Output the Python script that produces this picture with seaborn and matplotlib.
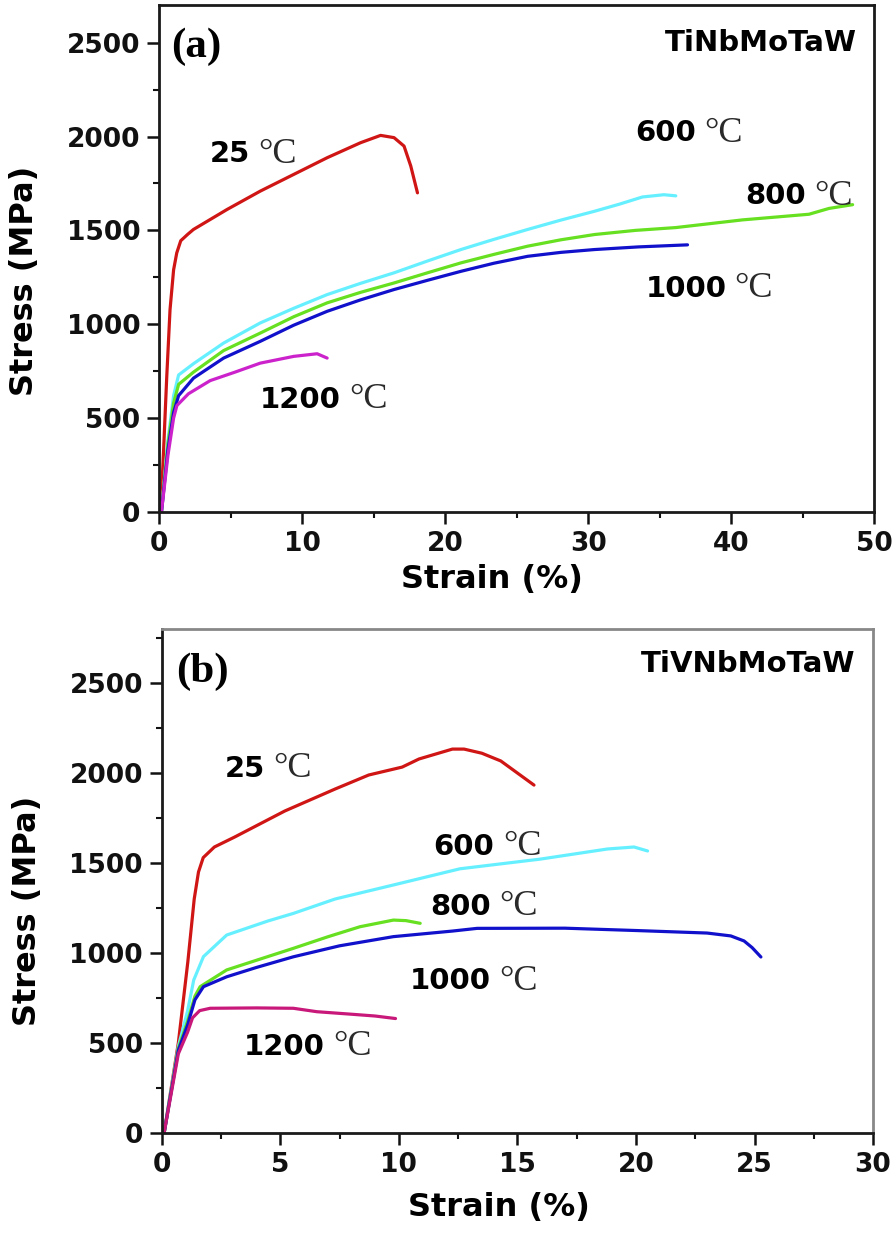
import numpy as np
import pandas as pd
import matplotlib
matplotlib.use('Agg')
import matplotlib.pyplot as plt
import seaborn as sns

# ---- data ----
temps = ['25', '600', '800', '1000', '1200']

# (a) TiNbMoTaW
a25_x = [0.1, 0.3, 0.52, 0.75, 1.0, 1.22, 1.5, 2.0, 2.39, 4.73, 7.06, 9.4, 11.74, 14.08, 15.48, 16.42, 17.12, 17.59, 18.06]
a25_y = [0, 330, 720, 1078, 1290, 1380, 1445, 1480, 1505, 1611, 1709, 1798, 1887, 1967, 2006, 1994, 1949, 1843, 1700]
a600_x = [0.15, 0.6, 1.0, 1.35, 2.39, 4.5, 7.06, 9.4, 11.74, 14.08, 16.42, 18.8, 21.1, 23.4, 25.77, 28.1, 30.45, 32.2, 33.8, 35.3, 36.13]
a600_y = [0, 380, 620, 730, 790, 900, 1007, 1085, 1158, 1218, 1274, 1338, 1398, 1452, 1505, 1555, 1602, 1640, 1678, 1690, 1684]
a800_x = [0.15, 0.6, 1.0, 1.35, 2.39, 4.5, 7.06, 9.4, 11.74, 14.08, 16.42, 18.8, 21.1, 23.4, 25.77, 28.1, 30.45, 33.3, 36.13, 40.8, 45.45, 46.85, 48.5]
a800_y = [0, 360, 580, 680, 745, 860, 953, 1040, 1114, 1170, 1220, 1275, 1327, 1372, 1416, 1450, 1478, 1500, 1515, 1556, 1586, 1617, 1637]
a1000_x = [0.15, 0.6, 1.0, 1.35, 2.39, 4.5, 7.06, 9.4, 11.74, 14.08, 16.42, 18.8, 21.1, 23.4, 25.77, 28.1, 30.45, 33.5, 36.95]
a1000_y = [0, 330, 530, 620, 713, 820, 909, 995, 1069, 1130, 1185, 1235, 1282, 1325, 1362, 1383, 1398, 1412, 1423]
a1200_x = [0.15, 0.6, 1.0, 1.23, 2.04, 3.56, 5.29, 7.06, 9.4, 11.04, 11.74]
a1200_y = [0, 300, 500, 567, 630, 700, 745, 793, 829, 843, 820]

# (b) TiVNbMoTaW
b25_x = [0.1, 0.7, 1.1, 1.37, 1.55, 1.75, 2.22, 3.07, 5.19, 7.31, 8.73, 10.14, 10.85, 12.26, 12.75, 13.5, 14.3, 15.0, 15.7]
b25_y = [0, 500, 950, 1300, 1450, 1530, 1589, 1644, 1789, 1911, 1989, 2033, 2078, 2133, 2133, 2110, 2067, 2000, 1933]
b600_x = [0.1, 0.7, 1.09, 1.35, 1.76, 2.74, 4.48, 5.55, 7.31, 9.77, 12.58, 15.98, 18.8, 19.92, 20.49]
b600_y = [0, 480, 678, 850, 980, 1100, 1178, 1220, 1300, 1378, 1468, 1522, 1578, 1589, 1567]
b800_x = [0.1, 0.7, 1.09, 1.4, 1.62, 2.74, 4.0, 5.55, 7.0, 8.36, 9.77, 10.3, 10.9]
b800_y = [0, 470, 620, 760, 813, 906, 960, 1026, 1090, 1146, 1183, 1180, 1165]
b1000_x = [0.1, 0.7, 1.09, 1.4, 1.76, 2.74, 4.0, 5.55, 7.5, 9.77, 12.26, 13.3, 17.0, 20.0, 23.0, 24.0, 24.56, 24.9, 25.27]
b1000_y = [0, 460, 600, 740, 813, 868, 920, 979, 1040, 1091, 1122, 1137, 1138, 1125, 1111, 1095, 1067, 1030, 978]
b1200_x = [0.1, 0.7, 1.09, 1.3, 1.6, 2.04, 4.0, 5.55, 6.54, 8.0, 9.0, 9.86]
b1200_y = [0, 440, 560, 640, 680, 693, 695, 693, 674, 660, 650, 636]

colors_a = ['#d01515', '#66f0ff', '#66e020', '#1111cc', '#cc22cc']
colors_b = ['#d01515', '#66f0ff', '#66e020', '#1111cc', '#c8187a']


def make_df(xs, ys):
    frames = []
    for t, x, y in zip(temps, xs, ys):
        frames.append(pd.DataFrame({'strain': x, 'stress': y, 'temp': t}))
    return pd.concat(frames, ignore_index=True)


df_a = make_df([a25_x, a600_x, a800_x, a1000_x, a1200_x],
               [a25_y, a600_y, a800_y, a1000_y, a1200_y])
df_b = make_df([b25_x, b600_x, b800_x, b1000_x, b1200_x],
               [b25_y, b600_y, b800_y, b1000_y, b1200_y])

sns.set_theme(style='ticks')
plt.rcParams['font.family'] = ['DejaVu Sans']
plt.rcParams['font.weight'] = 'bold'
plt.rcParams['text.color'] = '#000000'
plt.rcParams['axes.labelcolor'] = '#000000'
plt.rcParams['xtick.color'] = '#111111'
plt.rcParams['ytick.color'] = '#111111'

fig = plt.figure(figsize=(8.96, 12.38), dpi=100)
ax1 = fig.add_axes([0.1778, 0.5864, 0.7977, 0.4095])
ax2 = fig.add_axes([0.1805, 0.0848, 0.7939, 0.4071])


def temp_label(ax, x, y, num):
    t = ax.text(x, y, num, ha='left', va='center', fontsize=21,
                fontweight='bold', color='#000000')
    ax.annotate('°C', xy=(1, 0.5), xycoords=t, xytext=(6, 0),
                textcoords='offset points', ha='left', va='center',
                fontsize=26, family='Liberation Serif', fontweight='normal',
                color='#2a2a2a')


def style_axes(ax, xmax, ymax, xmajor, xminor, xlab_pos, ylab_pos):
    ax.set_xlim(0, xmax)
    ax.set_ylim(0, ymax)
    ax.set_xticks(np.arange(0, xmax + 0.1, xmajor))
    ax.set_xticks(np.arange(0, xmax + 0.1, xminor), minor=True)
    ax.set_yticks(np.arange(0, ymax, 500))
    ax.set_yticks(np.arange(0, ymax, 250), minor=True)
    ax.tick_params(which='major', direction='out', length=8.5, width=1.8,
                   labelsize=19, pad=5)
    ax.tick_params(which='minor', direction='out', length=4.5, width=1.5)
    for lab in ax.get_xticklabels() + ax.get_yticklabels():
        lab.set_fontweight('bold')
    for sp in ax.spines.values():
        sp.set_linewidth(2.0)
        sp.set_color('#1a1a1a')
    ax.set_xlabel('Strain (%)', fontsize=23, fontweight='bold')
    ax.set_ylabel('Stress (MPa)', fontsize=23, fontweight='bold')
    ax.xaxis.set_label_coords(*xlab_pos)
    ax.yaxis.set_label_coords(*ylab_pos)
    ax.xaxis.label.set_va('center')
    ax.yaxis.label.set_va('center')


# ---- (a) ----
sns.lineplot(data=df_a, x='strain', y='stress', hue='temp', palette=colors_a,
             sort=False, estimator=None, lw=2.3, legend=False, ax=ax1)
style_axes(ax1, 50, 2700, 10, 5, (0.465, -0.134), (-0.189, 0.456))
ax1.text(0.85, 2480, '(a)', ha='left', va='center', fontsize=31,
         family='Liberation Serif', fontweight='bold')
ax1.text(48.8, 2497, 'TiNbMoTaW', ha='right', va='center', fontsize=21,
         fontweight='bold')
for (x, y), t in zip([(3.5, 1905), (33.3, 2017), (41.0, 1681), (34.0, 1190), (7.06, 598)], temps):
    temp_label(ax1, x, y, t)

# ---- (b) ----
sns.lineplot(data=df_b, x='strain', y='stress', hue='temp', palette=colors_b,
             sort=False, estimator=None, lw=2.3, legend=False, ax=ax2)
style_axes(ax2, 30, 2800, 5, 2.5, (0.474, -0.147), (-0.189, 0.440))
ax2.spines['top'].set_color('#888888')
ax2.spines['right'].set_color('#888888')
ax2.text(0.62, 2560, '(b)', ha='left', va='center', fontsize=31,
         family='Liberation Serif', fontweight='bold')
ax2.text(29.24, 2606, 'TiVNbMoTaW', ha='right', va='center', fontsize=21,
         fontweight='bold')
for (x, y), t in zip([(2.64, 2025), (11.47, 1591), (11.32, 1256), (10.47, 844), (3.48, 478)], temps):
    temp_label(ax2, x, y, t)

fig.savefig('out.png', dpi=100)
